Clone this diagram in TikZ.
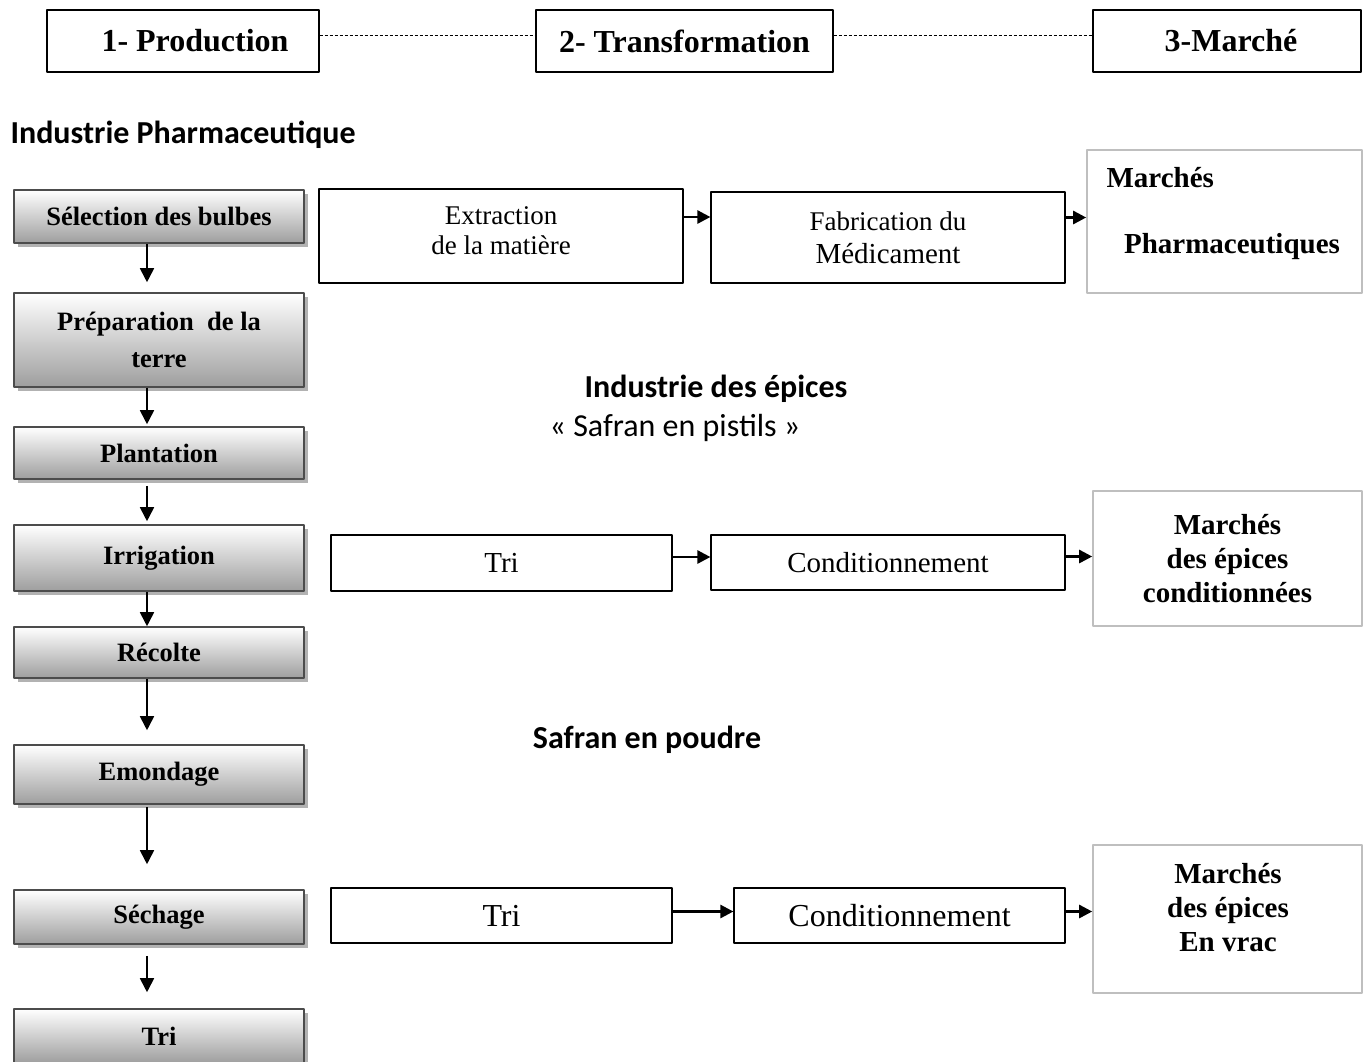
\documentclass[tikz,border=0pt]{standalone}
\usepackage{fontspec}
\setmainfont{Liberation Serif}
\newfontfamily\calib{Carlito}
\usetikzlibrary{arrows.meta,shadows}

\begin{document}
\begin{tikzpicture}[x=1pt, y=-1pt, line join=round, >={Triangle[width=14pt,length=14pt]}]
 \tikzset{etape/.style={draw=black!70, line width=1.6pt, top color=white, bottom color=black!38,
   minimum width=290pt, align=center, font=\fontsize{26.5}{37}\selectfont\bfseries,
   drop shadow={shadow xshift=4pt, shadow yshift=-4pt, fill=black!30, opacity=1}},
  titre/.style={draw, line width=1.2pt, minimum height=62pt, font=\fontsize{32}{36}\selectfont\bfseries},
  proc/.style={draw, line width=1.2pt, align=center},
  marche/.style={draw=black!25, line width=1.6pt, align=center, font=\fontsize{29}{34}\selectfont\bfseries},
  fl/.style={->, line width=1.8pt},
  flh/.style={->, line width=2.6pt, >={Triangle[width=13pt,length=13pt]}},
  rubrique/.style={font=\calib\fontsize{32}{36}\selectfont\bfseries}}
 \useasboundingbox (0,0) rectangle (1370,1061);
 % etapes du haut
 \node[titre, minimum width=272pt] (prod) at (183,41) {\hspace{24pt}1- Production};
 \node[titre, minimum width=297pt] (transf) at (684.5,41) {2- Transformation};
 \node[titre, minimum width=268pt] (march) at (1227,41) {\hspace{8pt}3-Marché};
 \draw[dash pattern=on 3pt off 2pt, line width=0.6pt] ([yshift=6]prod.east) -- ([yshift=6]transf.west);
 \draw[dash pattern=on 3pt off 2pt, line width=0.6pt] ([yshift=6]transf.east) -- ([yshift=6]march.west);
 \node[rubrique, anchor=west] (pharma) at (7,135) {Industrie Pharmaceutique};
 % production
 \node[etape, minimum height=53pt] (sel) at (159,216.5) {Sélection des bulbes};
 \node[etape, minimum height=94pt] (prep) at (159,340) {Préparation\ \ de la\\terre};
 \node[etape, minimum height=52pt] (plant) at (159,453) {Plantation};
 \node[etape, minimum height=66pt] (irr) at (159,558) {Irrigation};
 \node[etape, minimum height=51pt] (rec) at (159,652.5) {Récolte};
 \node[etape, minimum height=59pt] (emo) at (159,774.5) {Emondage};
 \node[etape, minimum height=54pt] (sech) at (159,917) {Séchage};
 \node[etape, minimum height=54pt] (tri) at (159,1036) {Tri};
 \draw[fl, shorten >=10pt] ([xshift=-12]sel.south) -- ([xshift=-12]prep.north);
 \draw[fl, shorten >=2pt] ([xshift=-12]prep.south) -- ([xshift=-12]plant.north);
 \draw[fl, shorten <=6pt, shorten >=3pt] ([xshift=-12]plant.south) -- ([xshift=-12]irr.north);
 \draw[fl] ([xshift=-12]irr.south) -- ([xshift=-12]rec.north);
 \draw[fl, shorten >=14pt] ([xshift=-12]rec.south) -- ([xshift=-12]emo.north);
 \draw[fl, shorten <=2pt, shorten >=25pt] ([xshift=-12]emo.south) -- ([xshift=-12]sech.north);
 \draw[fl, shorten <=11pt, shorten >=16pt] ([xshift=-12]sech.south) -- ([xshift=-12]tri.north);
 % industrie pharmaceutique
 \node[proc, minimum width=364pt, minimum height=94pt] (extr) at (501,236) {};
 \node[font=\fontsize{27}{30}\selectfont, align=center] (extrt) at (501,231) {Extraction\\de la matière};
 \node[proc, minimum width=354pt, minimum height=91pt, font=\fontsize{27}{33}\selectfont] (fab) at (888,237.5) {Fabrication du\\{\fontsize{29}{33}\selectfont Médicament}};
 \node[marche, minimum width=275pt, minimum height=143pt] (mpharma) at (1224.5,221.5) {};
 \node[font=\fontsize{29}{33}\selectfont\bfseries, anchor=west] (mp1) at (1103,178) {Marchés};
 \node[font=\fontsize{29}{33}\selectfont\bfseries] (mp2) at (1232,247) {Pharmaceutiques};
 \draw[flh] ([yshift=19]extr.east) -- ([yshift=19]extr.east -| fab.west);
 \draw[flh] ([yshift=20]fab.east) -- ([yshift=20]fab.east -| mpharma.west);
 % safran en pistils
 \node[rubrique] (epices) at (716,389) {Industrie des épices};
 \node[font=\calib\fontsize{32}{36}\selectfont] (pistils) at (675,428) {« Safran en pistils »};
 \node[proc, minimum width=341pt, minimum height=56pt, font=\fontsize{29}{33}\selectfont] (tri1) at (501.5,563) {Tri};
 \node[proc, minimum width=354pt, minimum height=55pt, font=\fontsize{29}{33}\selectfont] (cond1) at (888,562.5) {Conditionnement};
 \node[marche, minimum width=269pt, minimum height=135pt] (mcond) at (1227.5,558.5) {Marchés\\des épices\\conditionnées};
 \draw[flh] ([yshift=6]tri1.east) -- ([yshift=6]tri1.east -| cond1.west);
 \draw[flh] ([yshift=6]cond1.east) -- ([yshift=6]cond1.east -| mcond.west);
 % safran en poudre
 \node[rubrique] (poudre) at (647,740) {Safran en poudre};
 \node[proc, minimum width=341pt, minimum height=55pt, font=\fontsize{32}{34}\selectfont] (tri2) at (501.5,915.5) {Tri};
 \node[proc, minimum width=331pt, minimum height=55pt, font=\fontsize{32}{34}\selectfont] (cond2) at (899.5,915.5) {Conditionnement};
 \node[marche, minimum width=269pt, minimum height=148pt] (mvrac) at (1227.5,919) {};
 \node[font=\fontsize{29}{34}\selectfont\bfseries, align=center] (mv) at (1228,908) {Marchés\\des épices\\En vrac};
 \draw[flh] ([yshift=4]tri2.east) -- ([yshift=4]tri2.east -| cond2.west);
 \draw[flh] ([yshift=4]cond2.east) -- ([yshift=4]cond2.east -| mvrac.west);
\end{tikzpicture}
\end{document}
